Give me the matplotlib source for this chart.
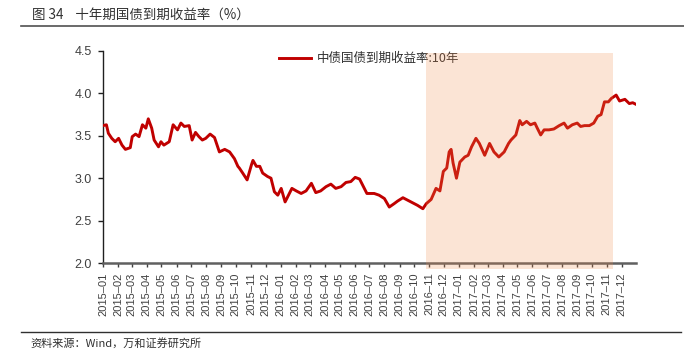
import matplotlib
matplotlib.use("Agg")
import matplotlib.pyplot as plt
import matplotlib.dates as mdates
from matplotlib.lines import Line2D
import pandas as pd

plt.rcParams['font.family'] = ['Noto Sans CJK SC', 'DejaVu Sans']

# 中债国债到期收益率:10年 (%)
dates = [
    "2015-01-01", "2015-01-08", "2015-01-12", "2015-01-19", "2015-01-26", "2015-02-02",
    "2015-02-09", "2015-02-16", "2015-02-26", "2015-03-02", "2015-03-09", "2015-03-16",
    "2015-03-23", "2015-03-30", "2015-04-04", "2015-04-11", "2015-04-16", "2015-04-25",
    "2015-04-30", "2015-05-06", "2015-05-17", "2015-05-25", "2015-06-03", "2015-06-10",
    "2015-06-17", "2015-06-27", "2015-07-03", "2015-07-10", "2015-07-17", "2015-07-24",
    "2015-07-31", "2015-08-09", "2015-08-18", "2015-08-28", "2015-09-08", "2015-09-18",
    "2015-09-28", "2015-10-05", "2015-10-08", "2015-10-15", "2015-10-24", "2015-11-02",
    "2015-11-05", "2015-11-12", "2015-11-19", "2015-11-25", "2015-12-05", "2015-12-12",
    "2015-12-19", "2015-12-26", "2016-01-02", "2016-01-10", "2016-01-17", "2016-01-24",
    "2016-02-02", "2016-02-12", "2016-02-22", "2016-03-04", "2016-03-13", "2016-03-23",
    "2016-04-03", "2016-04-13", "2016-04-23", "2016-05-04", "2016-05-14", "2016-05-24",
    "2016-06-02", "2016-06-11", "2016-06-19", "2016-06-26", "2016-07-04", "2016-07-11",
    "2016-07-21", "2016-08-01", "2016-08-11", "2016-08-21", "2016-08-28", "2016-09-08",
    "2016-09-18", "2016-09-28", "2016-10-08", "2016-10-19", "2016-10-26", "2016-11-05",
    "2016-11-15", "2016-11-23", "2016-11-30", "2016-12-07", "2016-12-12", "2016-12-16",
    "2016-12-20", "2016-12-27", "2017-01-03", "2017-01-13", "2017-01-20", "2017-01-27",
    "2017-02-05", "2017-02-12", "2017-02-23", "2017-03-05", "2017-03-14", "2017-03-24",
    "2017-04-04", "2017-04-13", "2017-04-18", "2017-04-28", "2017-05-06", "2017-05-11",
    "2017-05-20", "2017-05-28", "2017-06-06", "2017-06-11", "2017-06-18", "2017-06-25",
    "2017-07-05", "2017-07-15", "2017-07-26", "2017-08-05", "2017-08-12", "2017-08-22",
    "2017-09-01", "2017-09-08", "2017-09-16", "2017-09-26", "2017-10-05", "2017-10-13",
    "2017-10-20", "2017-10-27", "2017-11-04", "2017-11-10", "2017-11-20", "2017-11-27",
    "2017-12-08", "2017-12-17", "2017-12-24", "2017-12-31",
]
yields = [
    3.62, 3.63, 3.53, 3.47, 3.43, 3.47,
    3.39, 3.34, 3.36, 3.49, 3.52, 3.49,
    3.63, 3.59, 3.70, 3.59, 3.45, 3.37,
    3.43, 3.39, 3.43, 3.63, 3.57, 3.65,
    3.61, 3.62, 3.45, 3.54, 3.49, 3.45,
    3.47, 3.52, 3.48, 3.31, 3.34, 3.31,
    3.23, 3.14, 3.12, 3.06, 2.98, 3.16,
    3.21, 3.14, 3.14, 3.06, 3.02, 3.00,
    2.84, 2.80, 2.88, 2.72, 2.80, 2.88,
    2.85, 2.82, 2.85, 2.94, 2.83, 2.85,
    2.90, 2.93, 2.88, 2.90, 2.95, 2.96,
    3.01, 2.99, 2.90, 2.82, 2.82, 2.82,
    2.80, 2.76, 2.66, 2.70, 2.73, 2.77,
    2.74, 2.71, 2.68, 2.64, 2.70, 2.75,
    2.88, 2.85, 3.08, 3.12, 3.31, 3.34,
    3.18, 3.00, 3.19, 3.25, 3.27, 3.37,
    3.47, 3.41, 3.27, 3.41, 3.31, 3.25,
    3.31, 3.41, 3.45, 3.51, 3.68, 3.63,
    3.67, 3.63, 3.65, 3.59, 3.51, 3.57,
    3.57, 3.58, 3.62, 3.65, 3.59, 3.63,
    3.65, 3.61, 3.62, 3.62, 3.65, 3.73,
    3.75, 3.90, 3.90, 3.94, 3.98, 3.91,
    3.93, 3.88, 3.89, 3.87,
]
shade_start = "2016-10-26"
shade_end = "2017-11-14"
legend_label = "中债国债到期收益率:10年"

x = pd.to_datetime(dates)

fig = plt.figure(figsize=(6.84, 3.54), dpi=100)
ax = fig.add_axes([0.1506, 0.257, 0.7794, 0.599])

ax.plot(x, yields, color="#C00000", lw=2.1, label=legend_label, zorder=3)
ax.axvspan(pd.Timestamp(shade_start), pd.Timestamp(shade_end), ymin=-0.028, ymax=0.992,
           color="#F28B4C", alpha=0.23, lw=0, zorder=6, clip_on=False)

ax.set_ylim(2.0, 4.5)
ax.set_yticks([2.0, 2.5, 3.0, 3.5, 4.0, 4.5])
ax.yaxis.set_major_formatter(matplotlib.ticker.FormatStrFormatter("%.1f"))
ax.set_xlim(pd.Timestamp("2015-01-01"), pd.Timestamp("2017-12-31"))
ax.xaxis.set_major_locator(mdates.MonthLocator())
ax.xaxis.set_major_formatter(mdates.DateFormatter("%Y–%m"))

for s in ("top", "right"):
    ax.spines[s].set_visible(False)
ax.spines["left"].set_color("#202020")
ax.spines["left"].set_linewidth(1.0)
ax.spines["bottom"].set_color("#606060")
ax.spines["bottom"].set_linewidth(1.8)

ax.tick_params(axis="y", direction="out", length=3.5, width=1.0, color="#202020",
               pad=4.5, labelsize=9, labelcolor="#404040")
ax.tick_params(axis="x", direction="out", length=3, width=1.0, color="#404040",
               pad=4, labelsize=8, labelcolor="#404040", labelrotation=90)
for lab in ax.get_xticklabels() + ax.get_yticklabels():
    lab.set_family(["Liberation Sans", "DejaVu Sans"])

leg = ax.legend(loc="upper left", bbox_to_anchor=(0.33, 0.995), frameon=False,
                borderpad=0, borderaxespad=0, handlelength=2.6, handletextpad=0.4,
                prop={"size": 9})
for t in leg.get_texts():
    t.set_color("#303030")

fig.text(0.047, 0.958, "图 34    十年期国债到期收益率（%）", fontsize=9.7,
         color="#303030", va="center", ha="left")
fig.add_artist(Line2D([0.03, 1.0], [0.926, 0.926], transform=fig.transFigure,
                      color="#505050", lw=1.2))
fig.add_artist(Line2D([0.03, 0.995], [0.062, 0.062], transform=fig.transFigure,
                      color="#303030", lw=1.0))
fig.text(0.044, 0.031, "资料来源：Wind，万和证券研究所", fontsize=8,
         color="#303030", va="center", ha="left")

fig.savefig("out.png", dpi=100)
